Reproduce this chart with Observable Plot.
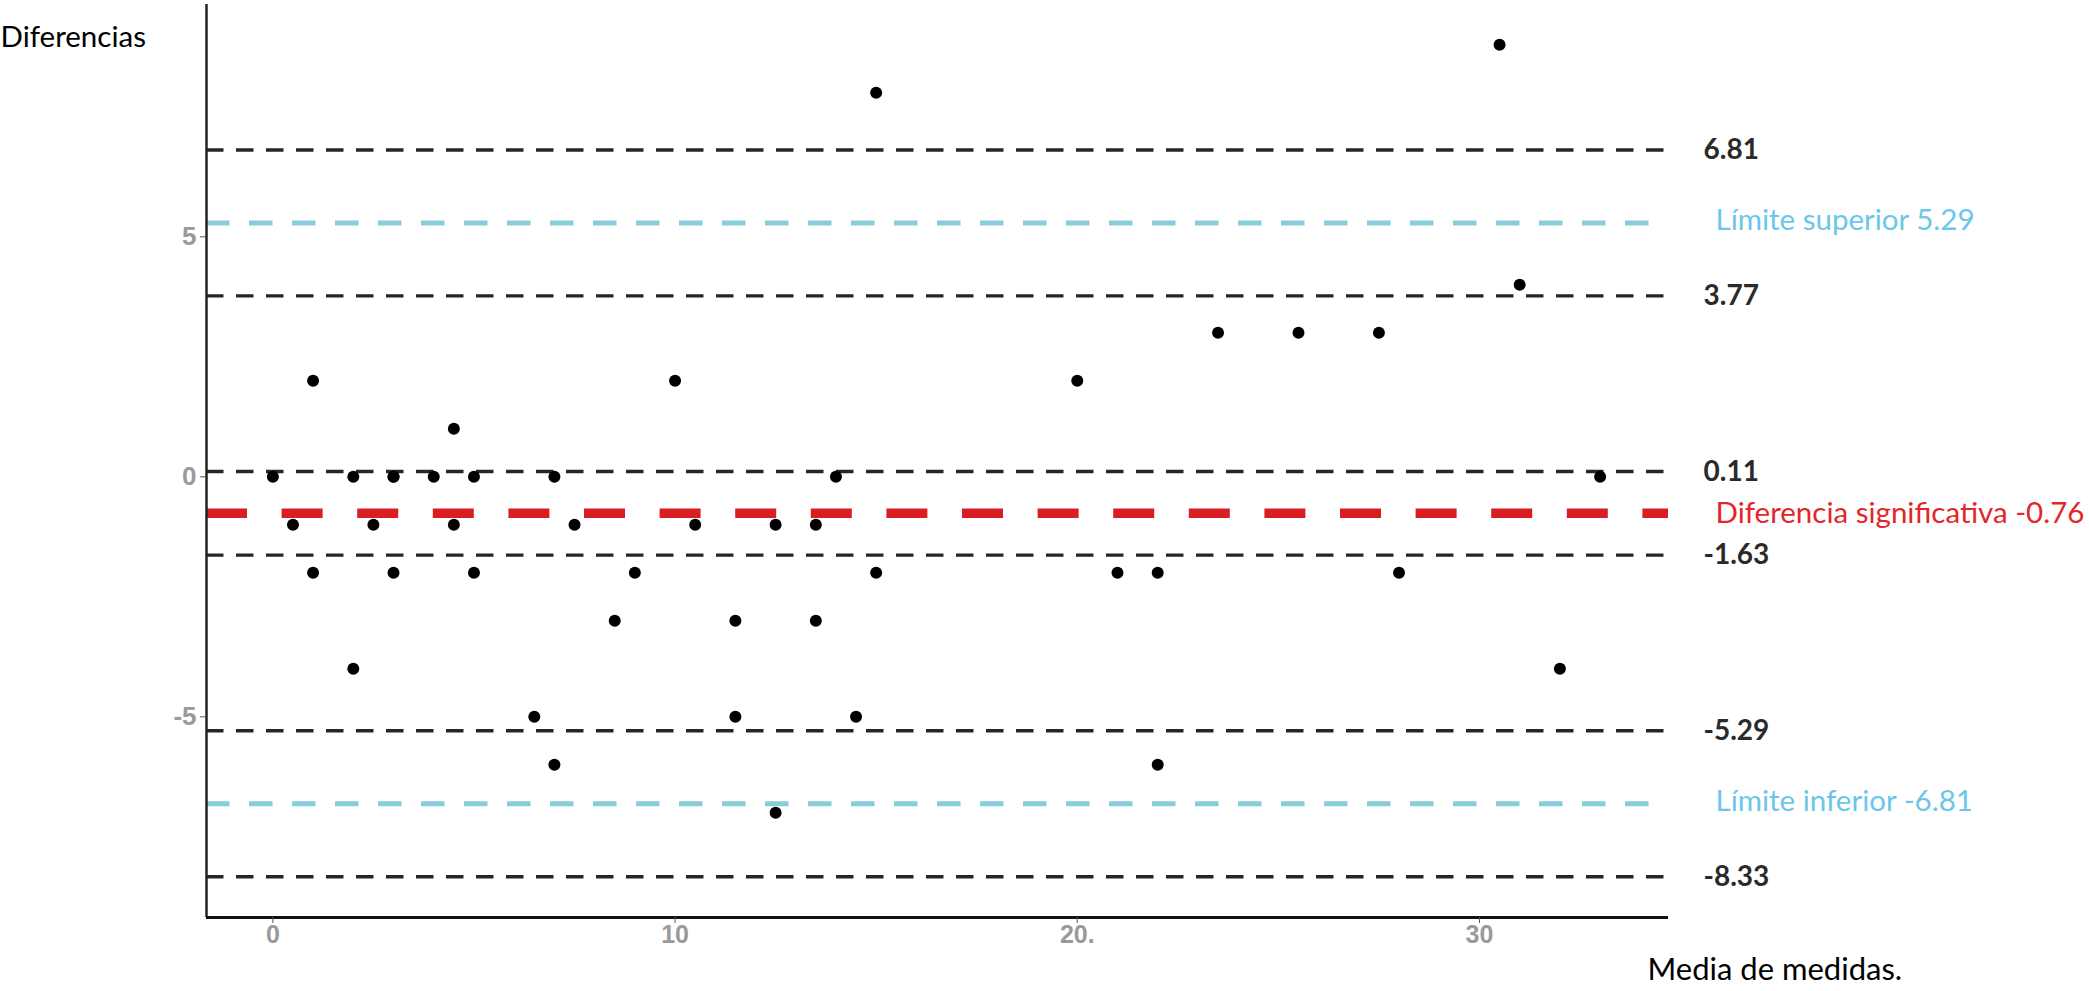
<!DOCTYPE html>
<html>
<head>
<meta charset="utf-8">
<script src="https://cdn.jsdelivr.net/npm/d3@7"></script>
<script src="https://cdn.jsdelivr.net/npm/@observablehq/plot@0.6"></script>
<style>
  html, body { margin: 0; padding: 0; background: #ffffff; }
  #chart svg { display: block; }
</style>
</head>
<body>
<div id="chart"></div>
<script>
// ---- data ----
const meanX = [0, 0.5, 1, 1, 2, 2, 2.5, 3, 3, 3, 4, 4.5, 4.5, 5, 5, 6.5, 7, 7, 7.5, 8.5, 9, 10, 10.5, 11.5, 11.5, 12.5, 12.5, 13.5, 13.5, 14, 14.5, 15, 15, 20, 21, 22, 22, 23.5, 25.5, 27.5, 28, 30.5, 31, 32, 33];
const diffY = [0, -1, 2, -2, 0, -4, -1, 0, 0, -2, 0, 1, -1, 0, -2, -5, 0, -6, -1, -3, -2, 2, -1, -3, -5, -1, -7, -1, -3, 0, -5, 8, -2, 2, -2, -2, -6, 3, 3, 3, -2, 9, 4, -4, 0];

const refValues = [6.81, 3.77, 0.11, -1.63, -5.29, -8.33];
const refLabels = ["6.81", "3.77", "0.11", "-1.63", "-5.29", "-8.33"];
const limitValues = [5.29, -6.81];
const limitLabels = ["Límite superior 5.29", "Límite inferior -6.81"];
const meanDiff = [-0.76];
const meanLabels = ["Diferencia significativa -0.76"];

const xTicks = [0, 10, 20, 30];
const xTickLabels = ["0", "10", "20.", "30"];
const yTicks = [-5, 0, 5];
const yTickLabels = ["-5", "0", "5"];

const xTitle = "Media de medidas.";
const yTitle = "Diferencias";

const xDomain = [-1.65, 34.7];
const yDomain = [-9.18, 9.84];

// ---- build tables ----
const points = meanX.map((x, i) => ({x, y: diffY[i]}));
const refRows = refValues.map((v, i) => ({y: v, text: refLabels[i]}));
const limitRows = limitValues.map((v, i) => ({y: v, text: limitLabels[i]}));
const meanRows = meanDiff.map((v, i) => ({y: v, text: meanLabels[i]}));

const FONT = "Lato, 'Open Sans', sans-serif";
const TICKFONT = "'Liberation Sans', Arial, sans-serif";
const cyan = "#88cdd9";
const red = "#d81e22";

const chart = Plot.plot({
  width: 2089,
  height: 991,
  marginLeft: 206,
  marginRight: 421,
  marginTop: 4,
  marginBottom: 74,
  style: {background: "#ffffff", fontFamily: FONT},
  x: {domain: xDomain},
  y: {domain: yDomain},
  marks: [
    Plot.ruleY(refValues, {stroke: "#262626", strokeWidth: 3.4, strokeDasharray: "17.5,12.5"}),
    Plot.ruleY(limitValues, {stroke: cyan, strokeWidth: 5, strokeDasharray: "23.5,19.5"}),
    Plot.ruleY(meanDiff, {stroke: red, strokeWidth: 9.5, strokeDasharray: "41,34.6"}),
    Plot.ruleX([xDomain[0]], {stroke: "#222", strokeWidth: 2.5}),
    Plot.ruleY([yDomain[0]], {stroke: "#111", strokeWidth: 3}),
    Plot.dot(points, {x: "x", y: "y", r: 6, fill: "#000", stroke: "none"}),
    Plot.axisX({
      ticks: xTicks,
      tickFormat: d => xTickLabels[xTicks.indexOf(d)],
      tickSize: 6, tickPadding: 2,
      stroke: "#555", fill: "#9a9a9a",
      fontSize: 25, fontWeight: "bold", fontFamily: TICKFONT,
      label: null
    }),
    Plot.axisY({
      ticks: yTicks,
      tickFormat: d => yTickLabels[yTicks.indexOf(d)],
      tickSize: 6, tickPadding: 4,
      stroke: "#555", fill: "#9a9a9a",
      fontSize: 26, fontWeight: "bold", fontFamily: TICKFONT,
      label: null
    }),
    Plot.text(refRows, {
      y: "y", text: "text", frameAnchor: "right", dx: 35,
      textAnchor: "start", fill: "#2a2a2a", fontSize: 28, fontWeight: "bold", fontFamily: FONT
    }),
    Plot.text(limitRows, {
      y: "y", text: "text", frameAnchor: "right", dx: 47, dy: -2,
      textAnchor: "start", fill: "#6cc6ea", fontSize: 29.5, fontFamily: FONT
    }),
    Plot.text(meanRows, {
      y: "y", text: "text", frameAnchor: "right", dx: 47,
      textAnchor: "start", fill: "#e3262b", fontSize: 29.5, fontFamily: FONT
    }),
    Plot.text([yTitle], {
      frameAnchor: "top-left", dx: -206, dy: 22,
      textAnchor: "start", fill: "#000", fontSize: 29.5, fontFamily: FONT
    }),
    Plot.text([xTitle], {
      frameAnchor: "bottom-right", dx: -21, dy: 62,
      textAnchor: "start", fill: "#000", fontSize: 31, fontFamily: FONT
    })
  ]
});

document.getElementById("chart").appendChild(chart);
</script>
</body>
</html>
